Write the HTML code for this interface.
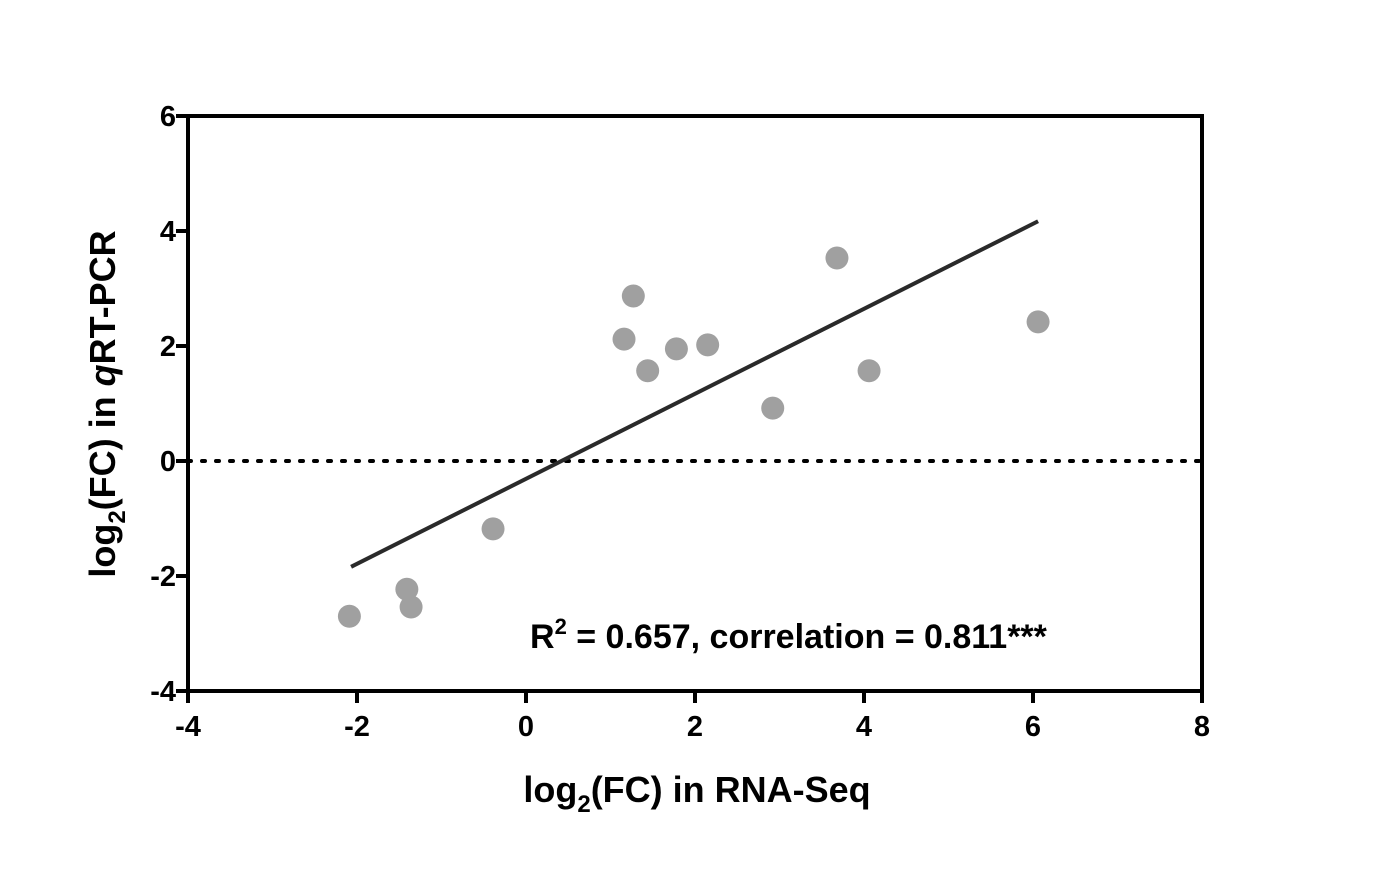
<!DOCTYPE html>
<html><head><meta charset="utf-8"><style>
html,body{margin:0;padding:0;background:#fff;}
svg{display:block;font-family:"Liberation Sans",Arial,sans-serif;}
</style></head><body>
<svg id="chart" width="1394" height="894">
<rect width="1394" height="894" fill="#fff"/>
<g id="marks"></g>
<rect x="188" y="116" width="1014" height="575" fill="none" stroke="#000" stroke-width="4"/>
<g id="axes"></g>
<text x="530" y="648" font-size="34" font-weight="bold">R<tspan dy="-14" font-size="22">2</tspan><tspan dy="14"> = 0.657, correlation = 0.811***</tspan></text>
<text x="697" y="802" font-size="36" font-weight="bold" text-anchor="middle">log<tspan dy="10" font-size="24">2</tspan><tspan dy="-10">(FC) in RNA-Seq</tspan></text>
<text transform="translate(115,404) rotate(-90)" font-size="36" font-weight="bold" text-anchor="middle">log<tspan dy="10" font-size="24">2</tspan><tspan dy="-10">(FC) in </tspan><tspan font-style="italic">q</tspan>RT-PCR</text>
</svg>
<script>
const xVals=[-2.09,-1.41,-1.36,-0.39,1.16,1.27,1.44,1.78,2.15,2.92,3.68,4.06,6.06];
const yVals=[-2.70,-2.23,-2.54,-1.18,2.12,2.87,1.57,1.95,2.02,0.92,3.53,1.57,2.42];
const xTicks=[-4,-2,0,2,4,6,8];
const yTicks=[-4,-2,0,2,4,6];
const fitX=[-2.07,6.06];
const fitY=[-1.84,4.17];
const NS="http://www.w3.org/2000/svg";
const X=v=>188+(v+4)*(1014/12);
const Y=v=>691-(v+4)*(575/10);
const marks=document.getElementById('marks'),axes=document.getElementById('axes');
function mk(t,a,p){const e=document.createElementNS(NS,t);for(const k in a)e.setAttribute(k,a[k]);p.appendChild(e);return e;}
const zl=mk('line',{x1:X(-4),x2:X(8),y1:Y(0),y2:Y(0),stroke:'#000','stroke-width':4,'stroke-dasharray':'3 11','stroke-linecap':'round'},marks);


for(let i=0;i<xVals.length;i++){
 const c=mk('circle',{cx:X(xVals[i]),cy:Y(yVals[i]),r:11.5,fill:'#a0a0a0'},marks);
 
 
}
const fl=mk('line',{x1:X(fitX[0]),y1:Y(fitY[0]),x2:X(fitX[1]),y2:Y(fitY[1]),stroke:'#2a2a2a','stroke-width':4},marks);


xTicks.forEach(t=>{
 const l=mk('line',{x1:X(t),x2:X(t),y1:691,y2:703,stroke:'#000','stroke-width':4},axes);
 
 
 const tx=mk('text',{x:X(t),y:736,'font-size':29,'font-weight':'bold','text-anchor':'middle'},axes);
 tx.textContent=t;
 
 
});
yTicks.forEach(t=>{
 const l=mk('line',{x1:176,x2:188,y1:Y(t),y2:Y(t),stroke:'#000','stroke-width':4},axes);
 
 
 const tx=mk('text',{x:176,y:Y(t)+10,'font-size':29,'font-weight':'bold','text-anchor':'end'},axes);
 tx.textContent=t;
 
 
});
</script>
</body></html>
